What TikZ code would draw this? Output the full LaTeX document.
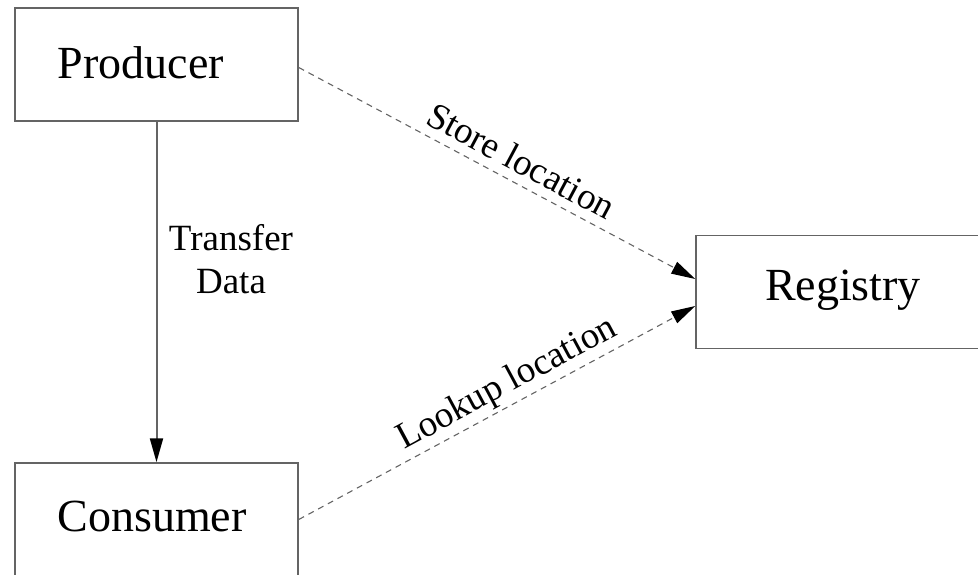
\documentclass[tikz,border=0pt]{standalone}
\usepackage{fontspec}
\setmainfont{Liberation Serif}
\usetikzlibrary{arrows.meta}
\definecolor{edgegray}{RGB}{100,100,100}
\tikzset{
  box/.style={draw=edgegray, line width=1.5pt, rectangle, minimum width=283pt, minimum height=113pt, inner sep=0pt},
  boxtext/.style={font=\fontsize{46}{50}\selectfont, inner sep=0pt},
  lbl/.style={font=\fontsize{37}{43}\selectfont, inner sep=2pt},
  conn/.style={draw=edgegray, line width=2pt, -{Triangle[length=24pt,width=13pt,fill=black,color=black]}},
  dashconn/.style={conn, line width=1.1pt, dash pattern=on 6pt off 5pt}
}
\begin{document}
\begin{tikzpicture}[x=1pt,y=-1pt]
\useasboundingbox (0,0) rectangle (978,575);
\node[box] (prod) at (156.5,64.5) {};
\node[box] (cons) at (156.5,519.5) {};
\node[box] (reg) at (837.5,292) {};
\node[boxtext] (prodt) at (141,63) {Producer};
\node[boxtext] (const) at (152,516) {Consumer};
\node[boxtext] (regt) at (843,290) {Registry};
\draw[conn] (prod.south) -- (cons.north);
\node[lbl, align=center] (tdl) at (231,259) {Transfer\\Data};
\draw[dashconn] ([yshift=-3pt]prod.east) -- node[lbl, sloped, above, pos=0.535, inner sep=9pt] (sll) {Store location} ([yshift=13pt]reg.west);
\draw[dashconn] (cons.east) -- node[lbl, sloped, above, pos=0.55, inner sep=3pt] (lll) {Lookup location} ([yshift=-14pt]reg.west);
\end{tikzpicture}
\end{document}
